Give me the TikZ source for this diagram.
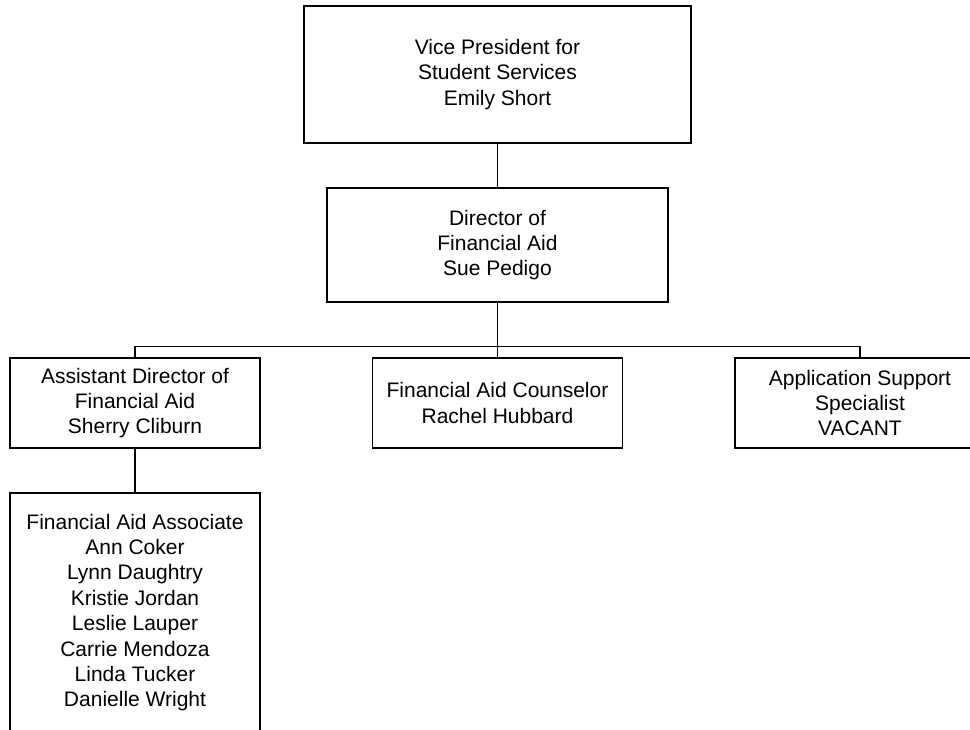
\documentclass[tikz,border=0pt]{standalone}
\usepackage{fontspec}
\setmainfont{Liberation Sans}
\usepackage{tikz}
\usetikzlibrary{calc}

\begin{document}
\begin{tikzpicture}[
    x=1pt, y=-1pt,
    orgbox/.style={rectangle, draw=black, line width=1.6pt, fill=white, inner sep=0pt, align=center,
        font=\fontsize{21}{25.4}\selectfont, minimum width=250pt, minimum height=90pt},
    link/.style={draw=black, line width=1.2pt}
]
\useasboundingbox (0,0) rectangle (970,730);
\clip (0,0) rectangle (970,730);
\fill[white] (0,0) rectangle (970,730);

\node [orgbox, minimum width=387pt, minimum height=137pt] (vp) at (497.5,74.5)
    {Vice President for\\Student Services\\Emily Short};
\node [orgbox, minimum width=341pt, minimum height=114pt] (dir) at (497.5,245)
    {Director of\\Financial Aid\\Sue Pedigo};
\node [orgbox] (asst) at (135,403) {Assistant Director of\\Financial Aid\\Sherry Cliburn};
\node [orgbox] (couns) at (497.5,403) {Financial Aid Counselor\\Rachel Hubbard};
\node [orgbox] (app) at (860,403) {Application Support\\Specialist\\VACANT};
\node [orgbox, minimum height=239pt] (assoc) at (135,612.5)
    {Financial Aid Associate\\Ann Coker\\Lynn Daughtry\\Kristie Jordan\\Leslie Lauper\\Carrie Mendoza\\Linda Tucker\\Danielle Wright};

\coordinate (bus) at (497.5,346.5);
\draw [link] (vp) -- (dir);
\draw [link, line width=1.8pt] (dir) -- (couns);
\draw [link] (asst.north) |- (bus) -| (app.north);
\draw [link] (asst) -- (assoc);
\end{tikzpicture}
\end{document}
